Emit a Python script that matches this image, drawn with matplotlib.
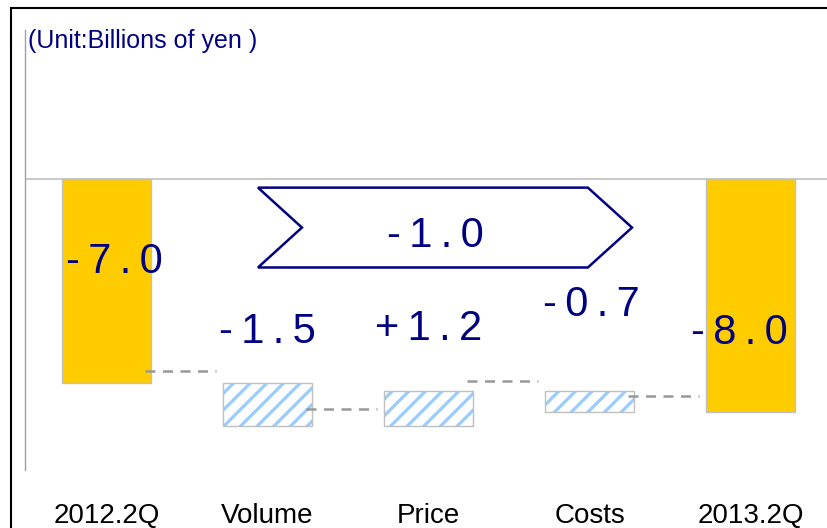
import matplotlib
matplotlib.use("Agg")
import matplotlib.pyplot as plt
from matplotlib.patches import Polygon, Rectangle
import numpy as np

# data
categories = ["2012.2Q", "Volume", "Price", "Costs", "2013.2Q"]
changes = [-7.0, -1.5, 1.2, -0.7, -8.0]
value_labels = ["-7.0", "-1.5", "+1.2", "-0.7", "-8.0"]
total_change = "-1.0"
connector_levels = [-6.6, -7.9, -6.95, -7.45]
unit_text = "(Unit:Billions of yen )"

NAVY = "#000080"
YELLOW = "#FFCC00"
BLUE = "#99CCFF"
EDGE = "#C0C0C0"
FONT = ["Liberation Sans", "DejaVu Sans"]

plt.rcParams["hatch.linewidth"] = 2.3


def spaced(s):
    # the original uses wide letter spacing
    return "\u2009".join(s)


fig = plt.figure(figsize=(8.27, 5.28), dpi=100)
ax = fig.add_axes([25 / 827, 1 - 470 / 528, 1 - 25 / 827, 440 / 528])

x = np.arange(len(categories))
width = 0.555

# waterfall bottoms / heights
bottoms = []
heights = []
running = 0.0
for i, c in enumerate(changes):
    if i == 0 or i == len(changes) - 1:
        bottoms.append(0.0)
        heights.append(c)
        running = c
    else:
        bottoms.append(running)
        heights.append(c)
        running += c

for i in range(len(categories)):
    total = i == 0 or i == len(categories) - 1
    if total:
        ax.bar(x[i], heights[i], bottom=bottoms[i], width=width, color=YELLOW,
               edgecolor=EDGE, linewidth=1.0, zorder=3)
    else:
        # hatch takes the edge colour, so draw the outline separately
        ax.bar(x[i], heights[i], bottom=bottoms[i], width=width, color="white",
               edgecolor=BLUE, linewidth=0, hatch="//", zorder=3)
        ax.bar(x[i], heights[i], bottom=bottoms[i], width=width, fill=False,
               edgecolor=EDGE, linewidth=1.0, zorder=3.5)

# dashed connectors
for i, lvl in enumerate(connector_levels):
    x0 = x[i] + width / 2 - 0.04
    x1 = x[i + 1] - width / 2 - 0.04
    ax.plot([x0, x1], [lvl, lvl], color="#999999", lw=1.8, ls=(0, (4, 3)),
            zorder=4)

ax.axhline(0, color=EDGE, lw=1.2, zorder=2)

# value labels
label_pos = [(0.05, -2.85), (0.0, -5.25), (0.0, -5.15), (0.01, -4.35), (-0.07, -5.3)]
for i, txt in enumerate(value_labels):
    dx, ly = label_pos[i]
    ax.text(x[i] + dx, ly, spaced(txt), ha="center", va="center", color=NAVY,
            fontsize=30, family=FONT, zorder=5)

# chevron with overall change
chev = Polygon([(0.941, -0.31), (2.99, -0.31), (3.264, -1.68), (2.99, -3.05),
                (0.941, -3.05), (1.214, -1.68)], closed=True, fill=False,
               edgecolor=NAVY, lw=1.8, zorder=5)
ax.add_patch(chev)
ax.text(2.04, -1.97, spaced(total_change), ha="center", va="center", color=NAVY,
        fontsize=30, family=FONT, zorder=6)

ax.text(0.004, 1.003, unit_text, transform=ax.transAxes, ha="left", va="top",
        color=NAVY, fontsize=18, family=FONT)

ax.set_xlim(-0.506, 4.475)
ax.set_ylim(-10.0, 5.1)
ax.set_xticks(x)
ax.set_xticklabels(categories, family=FONT, fontsize=20)
ax.tick_params(axis="x", length=0, pad=24)
ax.set_yticks([])
for s in ["top", "right", "bottom"]:
    ax.spines[s].set_visible(False)
ax.spines["left"].set_color("#A0A0A0")
ax.spines["left"].set_linewidth(1.0)

# outer frame
fig.patches.append(Rectangle((11 / 827, -0.1), 1.2, 1 - 8 / 528 + 0.1,
                             transform=fig.transFigure, fill=False,
                             edgecolor="black", lw=1.5, zorder=10))

fig.savefig("out.png", dpi=100)
